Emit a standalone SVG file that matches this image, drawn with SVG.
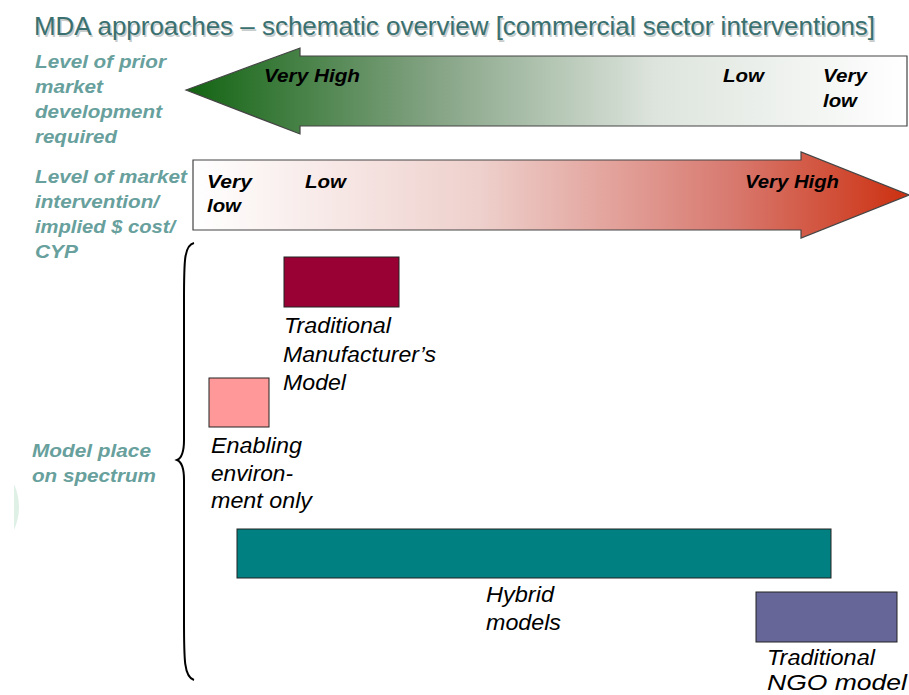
<svg xmlns="http://www.w3.org/2000/svg" width="909" height="695" viewBox="0 0 909 695">
<defs>
<linearGradient id="gGreen" x1="186" y1="0" x2="907" y2="0" gradientUnits="userSpaceOnUse">
<stop offset="0" stop-color="#126412"/>
<stop offset="0.35" stop-color="#86a486"/>
<stop offset="0.65" stop-color="#dde4dd"/>
<stop offset="1" stop-color="#ffffff"/>
</linearGradient>
<linearGradient id="gRed" x1="193" y1="0" x2="909" y2="0" gradientUnits="userSpaceOnUse">
<stop offset="0" stop-color="#ffffff"/>
<stop offset="0.4" stop-color="#eed0cc"/>
<stop offset="0.75" stop-color="#d87a70"/>
<stop offset="1" stop-color="#cc3010"/>
</linearGradient>
</defs>
<style>
.title{font-family:"Liberation Sans",Arial,sans-serif;font-size:25px;fill:#3a7170}
.shadow{font-family:"Liberation Sans",Arial,sans-serif;font-size:25px;fill:#c8cccc}
.axis{font-family:"Liberation Sans",Arial,sans-serif;font-size:18.5px;font-weight:bold;font-style:italic;fill:#67a09c}
.alab{font-family:"Liberation Sans",Arial,sans-serif;font-size:18.5px;font-weight:bold;font-style:italic;fill:#000}
.blab{font-family:"Liberation Sans",Arial,sans-serif;font-size:21.5px;font-style:italic;fill:#000}
.arrow{stroke:#444;stroke-width:1.2}
.box{stroke:#222;stroke-width:1}
</style>
<rect width="909" height="695" fill="#ffffff"/>
<path d="M14,484 Q24,507 14,530 Z" fill="#dff0e6"/>

<g id="title">
<text class="shadow" x="35.5" y="36.5" textLength="841" lengthAdjust="spacingAndGlyphs">MDA approaches – schematic overview [commercial sector interventions]</text>
<text class="title" x="34" y="35" textLength="841" lengthAdjust="spacingAndGlyphs">MDA approaches – schematic overview [commercial sector interventions]</text>
</g>

<g id="axis-labels">
<text class="axis" x="35" y="68" textLength="131" lengthAdjust="spacingAndGlyphs">Level of prior</text>
<text class="axis" x="35" y="93" textLength="68" lengthAdjust="spacingAndGlyphs">market</text>
<text class="axis" x="35" y="118" textLength="127" lengthAdjust="spacingAndGlyphs">development</text>
<text class="axis" x="35" y="143" textLength="82" lengthAdjust="spacingAndGlyphs">required</text>
<text class="axis" x="35" y="183" textLength="152" lengthAdjust="spacingAndGlyphs">Level of market</text>
<text class="axis" x="35" y="208" textLength="124" lengthAdjust="spacingAndGlyphs">intervention/</text>
<text class="axis" x="35" y="233" textLength="140" lengthAdjust="spacingAndGlyphs">implied $ cost/</text>
<text class="axis" x="35" y="258" textLength="43" lengthAdjust="spacingAndGlyphs">CYP</text>
<text class="axis" x="32" y="457" textLength="119" lengthAdjust="spacingAndGlyphs">Model place</text>
<text class="axis" x="32" y="482" textLength="124" lengthAdjust="spacingAndGlyphs">on spectrum</text>
</g>

<g id="arrow-prior-development">
<path class="arrow" d="M186,90 L300,48 L300,56 L907,56 L907,126 L300,126 L300,134 Z" fill="url(#gGreen)"/>
<text class="alab" x="264" y="82" textLength="96" lengthAdjust="spacingAndGlyphs">Very High</text>
<text class="alab" x="723" y="82" textLength="41" lengthAdjust="spacingAndGlyphs">Low</text>
<text class="alab" x="823" y="82" textLength="44" lengthAdjust="spacingAndGlyphs">Very</text>
<text class="alab" x="823" y="107" textLength="34" lengthAdjust="spacingAndGlyphs">low</text>
</g>

<g id="arrow-market-intervention">
<path class="arrow" d="M193,160 L801,160 L801,152 L909,195 L801,238 L801,230 L193,230 Z" fill="url(#gRed)"/>
<text class="alab" x="207" y="188" textLength="45" lengthAdjust="spacingAndGlyphs">Very</text>
<text class="alab" x="207" y="212" textLength="34" lengthAdjust="spacingAndGlyphs">low</text>
<text class="alab" x="305" y="188" textLength="41" lengthAdjust="spacingAndGlyphs">Low</text>
<text class="alab" x="745" y="188" textLength="94" lengthAdjust="spacingAndGlyphs">Very High</text>
</g>

<g id="connectors">
<path d="M194,243 C184,245 184,262 184,300 L184,440 C184,452 182,458 177,460 C182,462 184,468 184,480 L184,620 C184,660 184,677 194,680" fill="none" stroke="#000" stroke-width="2"/>
</g>

<g id="node-traditional-manufacturer">
<rect class="box" x="284" y="257" width="115" height="50" fill="#990033"/>
<text class="blab" x="284" y="333" textLength="107" lengthAdjust="spacingAndGlyphs">Traditional</text>
<text class="blab" x="283" y="362" textLength="153" lengthAdjust="spacingAndGlyphs">Manufacturer’s</text>
<text class="blab" x="283" y="390" textLength="63" lengthAdjust="spacingAndGlyphs">Model</text>
</g>

<g id="node-enabling-environment">
<rect class="box" x="209" y="378" width="60" height="49" fill="#ff9999"/>
<text class="blab" x="211" y="453" textLength="91" lengthAdjust="spacingAndGlyphs">Enabling</text>
<text class="blab" x="211" y="481" textLength="82" lengthAdjust="spacingAndGlyphs">environ-</text>
<text class="blab" x="211" y="508" textLength="101" lengthAdjust="spacingAndGlyphs">ment only</text>
</g>

<g id="node-hybrid">
<rect class="box" x="237" y="529" width="594" height="49" fill="#008080"/>
<text class="blab" x="486" y="602" textLength="68" lengthAdjust="spacingAndGlyphs">Hybrid</text>
<text class="blab" x="486" y="630" textLength="75" lengthAdjust="spacingAndGlyphs">models</text>
</g>

<g id="node-traditional-ngo">
<rect class="box" x="756" y="592" width="141" height="50" fill="#666699"/>
<text class="blab" x="767" y="665" textLength="108" lengthAdjust="spacingAndGlyphs">Traditional</text>
<text class="blab" x="767" y="690" textLength="140" lengthAdjust="spacingAndGlyphs">NGO model</text>
</g>
</svg>
